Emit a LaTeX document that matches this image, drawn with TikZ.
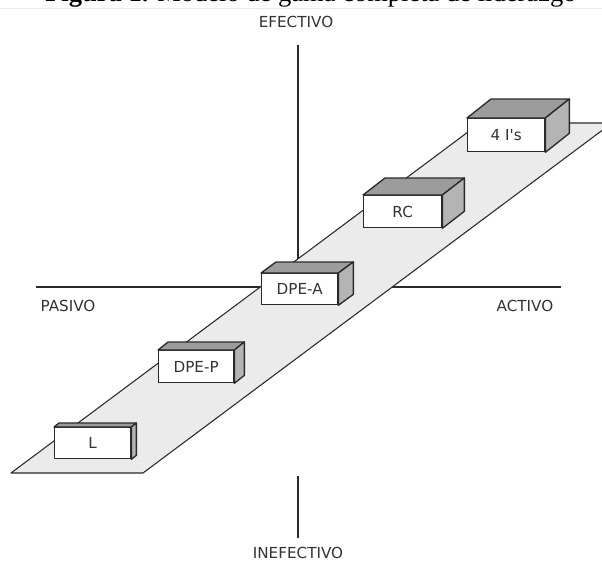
\documentclass[tikz,border=0pt]{standalone}
\usepackage{fontspec}
\setmainfont{Liberation Serif}
\newfontfamily\labelfont{DejaVu Sans}
\usetikzlibrary{calc}
\definecolor{planefill}{HTML}{EBEBEB}
\definecolor{topface}{HTML}{9C9C9C}
\definecolor{sideface}{HTML}{B4B4B4}
\definecolor{edge}{HTML}{2A2A2A}
\tikzset{
  axis/.style={draw=edge, line width=1.5pt},
  axislabel/.style={font=\labelfont\fontsize{11.4}{13}\selectfont, text=black!80, inner sep=0pt},
  plane/.style={fill=planefill, draw=edge, line width=0.8pt, line join=round},
  frontface/.style={draw=edge, fill=white, line width=1pt, inner sep=0pt,
    font=\labelfont\fontsize{11.4}{13}\selectfont, text=black!80},
  topfill/.style={fill=topface, draw=edge, line width=1pt, line join=round},
  sidefill/.style={fill=sideface, draw=edge, line width=1pt, line join=round},
}
% one box: front face node, then its top and right faces
\newcommand{\solidbox}[7]{% name, x1, y1, x2, y2, depth (dx,dy), label
  \node[frontface, anchor=north west, minimum width={(#4-#2)*0.75pt}, minimum height={(#5-#3)*0.75pt}]
    (#1) at (#2,#3) {#7};
  \draw[topfill] (#1.north west) -- ++#6 -- ($(#1.north east)+#6$) -- (#1.north east) -- cycle;
  \draw[sidefill] (#1.north east) -- ++#6 -- ($(#1.south east)+#6$) -- (#1.south east) -- cycle;
}
\begin{document}
\begin{tikzpicture}[x=0.75pt, y=-0.75pt]
  \useasboundingbox (0,0) rectangle (602,564);
  % caption strip cut at the top edge
  \begin{scope}
    \clip (0,0) rectangle (602,8);
    \node[anchor=base west, inner sep=0pt, font=\fontsize{19.9}{22}\selectfont] (caption) at (45,1.5)
      {\textbf{Figura 1.} Modelo de gama completa de liderazgo};
  \end{scope}
  \draw[black!8, line width=0.6pt] (0,8) -- (602,8);

  % axes
  \coordinate (vtop) at (298,45);
  \coordinate (vbot) at (298,538);
  \coordinate (vbotstart) at (298,476);
  \coordinate (hleft) at (36,287);
  \coordinate (hright) at (561,287);
  \coordinate (center) at (298,287);
  \draw[axis] (vtop) -- (center);
  \draw[axis] (vbotstart) -- (vbot);
  \draw[axis] (hleft) -- (hright);

  \node[axislabel] (efectivo) at (296,22) {EFECTIVO};
  \node[axislabel] (inefectivo) at (298,553) {INEFECTIVO};
  \node[axislabel] (pasivo) at (68,306) {PASIVO};
  \node[axislabel] (activo) at (525,306) {ACTIVO};

  % slanted plane
  \coordinate (pbl) at (11,473);
  \coordinate (pbr) at (143,473);
  \coordinate (ptr) at (612,123);
  \coordinate (ptl) at (480,123);
  \draw[plane] (pbl) -- (pbr) -- (ptr) -- (ptl) -- cycle;

  % boxes along the plane
  \solidbox{fouris}{467}{118}{544}{151}{(24,-19)}{4 I's}
  \solidbox{rc}{363}{195}{441}{227}{(22,-17)}{RC}
  \solidbox{dpea}{261}{273}{337}{304}{(15,-11)}{DPE-A}
  \solidbox{dpep}{158}{350}{233}{382}{(10,-8)}{DPE-P}
  \solidbox{lbox}{54}{427}{130}{458}{(5,-4)}{L}
\end{tikzpicture}
\end{document}
